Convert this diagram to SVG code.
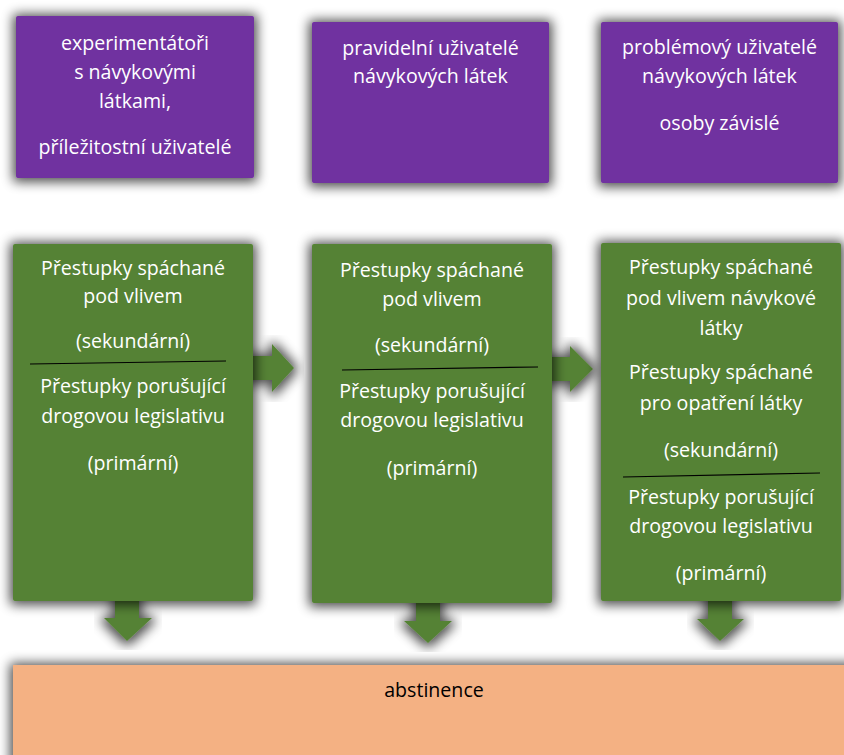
<svg xmlns="http://www.w3.org/2000/svg" width="844" height="755" viewBox="0 0 844 755">
<defs>
<filter id="sh" x="-20%" y="-20%" width="140%" height="140%">
<feMorphology in="SourceAlpha" operator="dilate" radius="3" result="d"/>
<feGaussianBlur in="d" stdDeviation="6" result="b"/>
<feOffset in="b" dx="0" dy="1" result="o"/>
<feComponentTransfer in="o" result="s"><feFuncA type="linear" slope="0.7"/></feComponentTransfer>
<feMerge><feMergeNode in="s"/><feMergeNode in="SourceGraphic"/></feMerge>
</filter>
<style>
.pu{fill:#7030A0;filter:url(#sh)}
.gr{fill:#548235;filter:url(#sh)}
.ar{fill:#548235;filter:url(#sh)}
.or{fill:#F4B183;filter:url(#sh)}
text{font-family:"Open Sans","Liberation Sans",sans-serif;font-size:19.6px;text-anchor:middle}
.w{fill:#ffffff}
.k{fill:#000000}
.sep{stroke:#000;stroke-width:1.2;fill:none}
</style>
</defs>
<rect width="844" height="755" fill="#ffffff"/>
<g id="connectors">
<polygon class="ar" points="248,356 272,356 272,344 294,368 272,392 272,380 248,380"/>
<polygon class="ar" points="546,357 570,357 570,346 593,369 570,392 570,381 546,381"/>
<polygon class="ar" points="115,596 139,596 139,618 152,618 127,641 104,618 115,618"/>
<polygon class="ar" points="416,598 440,598 440,621 452,621 428,643 404,621 416,621"/>
<polygon class="ar" points="708,596 732,596 732,619 744,619 720,641 697,619 708,619"/>
</g>
<g id="abstinence">
<rect class="or" x="13" y="665" width="845" height="100"/>
<text class="k" x="434" y="697">abstinence</text>
</g>
<g id="top1">
<rect class="pu" x="16" y="16" width="238" height="162" rx="2"/>
<text class="w" x="135" y="50">experimentátoři</text>
<text class="w" x="135" y="79">s návykovými</text>
<text class="w" x="135" y="108">látkami,</text>
<text class="w" x="135" y="154">příležitostní uživatelé</text>
</g>
<g id="top2">
<rect class="pu" x="312" y="22" width="237" height="161" rx="2"/>
<text class="w" x="430.5" y="55">pravidelní uživatelé</text>
<text class="w" x="430.5" y="83">návykových látek</text>
</g>
<g id="top3">
<rect class="pu" x="601" y="22" width="237" height="161" rx="2"/>
<text class="w" x="719.5" y="54">problémový uživatelé</text>
<text class="w" x="719.5" y="83">návykových látek</text>
<text class="w" x="719.5" y="130">osoby závislé</text>
</g>
<g id="green1">
<rect class="gr" x="13" y="244" width="240" height="357" rx="2"/>
<text class="w" x="133" y="275">Přestupky spáchané</text>
<text class="w" x="133" y="303">pod vlivem</text>
<text class="w" x="133" y="348">(sekundární)</text>
<line class="sep" x1="30" y1="364" x2="226" y2="361"/>
<text class="w" x="133" y="393">Přestupky porušující</text>
<text class="w" x="133" y="423">drogovou legislativu</text>
<text class="w" x="133" y="470">(primární)</text>
</g>
<g id="green2">
<rect class="gr" x="312" y="244" width="240" height="359" rx="2"/>
<text class="w" x="432" y="277">Přestupky spáchané</text>
<text class="w" x="432" y="306">pod vlivem</text>
<text class="w" x="432" y="352">(sekundární)</text>
<line class="sep" x1="342" y1="370" x2="538" y2="367"/>
<text class="w" x="432" y="398">Přestupky porušující</text>
<text class="w" x="432" y="427">drogovou legislativu</text>
<text class="w" x="432" y="475">(primární)</text>
</g>
<g id="green3">
<rect class="gr" x="601" y="243" width="240" height="358" rx="2"/>
<text class="w" x="721" y="274">Přestupky spáchané</text>
<text class="w" x="721" y="305">pod vlivem návykové</text>
<text class="w" x="721" y="335">látky</text>
<text class="w" x="721" y="379">Přestupky spáchané</text>
<text class="w" x="721" y="410">pro opatření látky</text>
<text class="w" x="721" y="457">(sekundární)</text>
<line class="sep" x1="623" y1="477" x2="820" y2="473"/>
<text class="w" x="721" y="504">Přestupky porušující</text>
<text class="w" x="721" y="533">drogovou legislativu</text>
<text class="w" x="721" y="580">(primární)</text>
</g>
</svg>
